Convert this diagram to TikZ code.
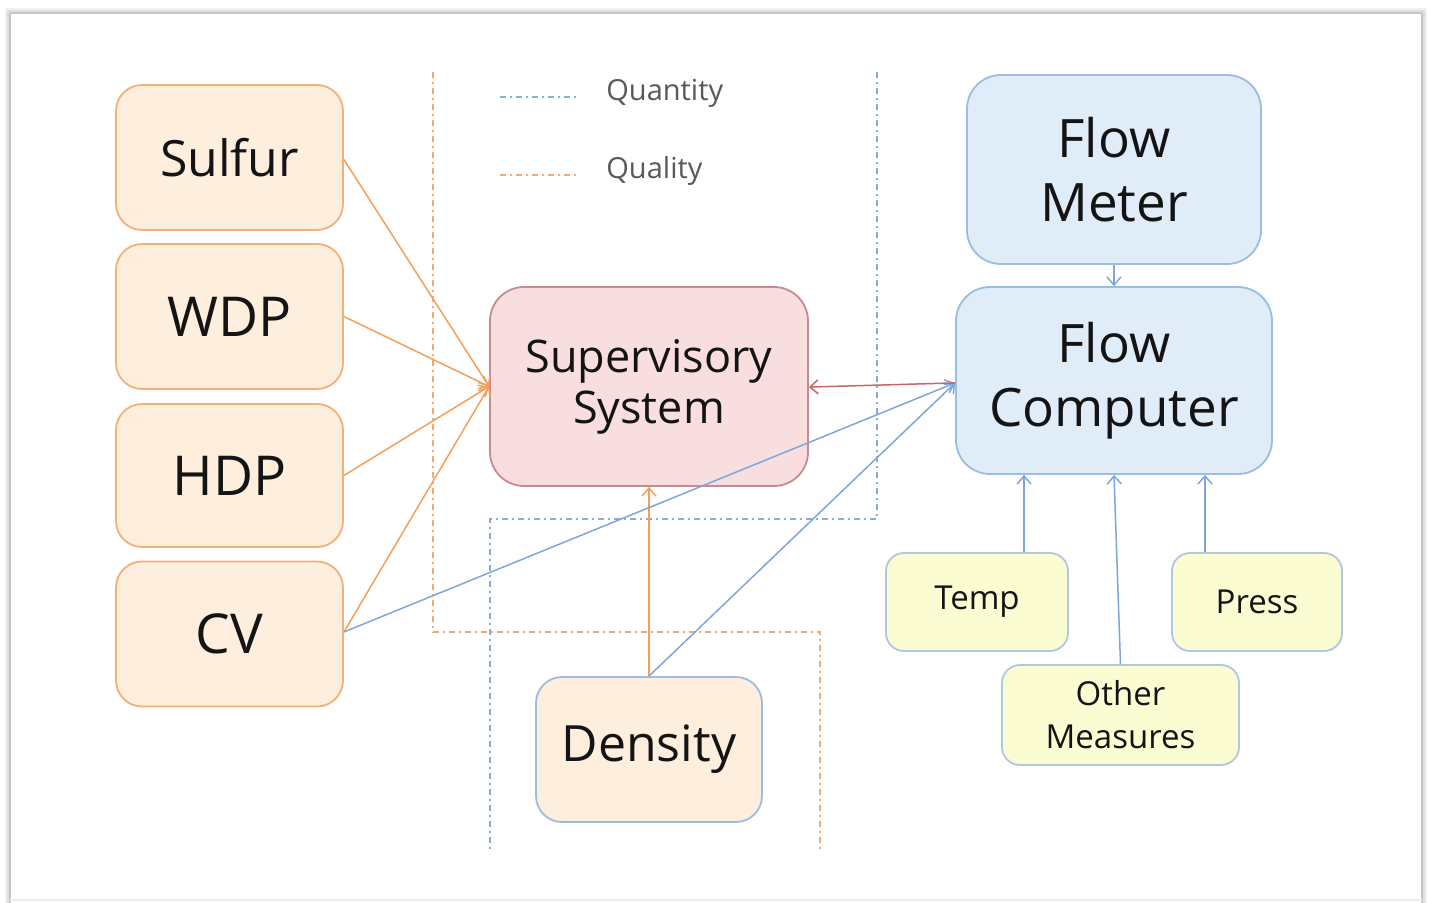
\documentclass[tikz,border=0pt]{standalone}
\usepackage{fontspec}
\setmainfont{Open Sans}
\usetikzlibrary{arrows.meta,calc}
\definecolor{ofill}{HTML}{FDEEDD}
\definecolor{odraw}{HTML}{F4B07A}
\definecolor{oline}{HTML}{F5A05A}
\definecolor{pfill}{HTML}{F9DEDF}
\definecolor{pdraw}{HTML}{C78A8E}
\definecolor{rline}{HTML}{C4676D}
\definecolor{bfill}{HTML}{E1ECF9}
\definecolor{bdraw}{HTML}{9BBCE3}
\definecolor{bline}{HTML}{7FA6DA}
\definecolor{yfill}{HTML}{FCFCD3}
\definecolor{ydraw}{HTML}{AFC8E2}
\definecolor{odash}{HTML}{F4A86A}
\definecolor{bdash}{HTML}{8AAAD8}
\definecolor{legtext}{HTML}{595959}
\definecolor{txt}{HTML}{141414}
\begin{document}
\begin{tikzpicture}[x=0.5pt,y=-0.5pt,
  boxbase/.style={rounded corners=13pt, line width=0.9pt, align=center, inner sep=0pt, text=txt},
  obox/.style={boxbase, fill=ofill, draw=odraw, minimum width=113.5pt, minimum height=72.5pt, font=\fontsize{25}{30}\selectfont},
  bigtext/.style={font=\fontsize{27.5}{32}\selectfont},
  sbox/.style={boxbase, rounded corners=17pt, fill=pfill, draw=pdraw, minimum width=159pt, minimum height=99.5pt, font=\fontsize{22.5}{25.5}\selectfont},
  fbox/.style={boxbase, rounded corners=17pt, fill=bfill, draw=bdraw, font=\fontsize{26.5}{32}\selectfont},
  ybox/.style={boxbase, rounded corners=9pt, fill=yfill, draw=ydraw, minimum height=49pt, font=\fontsize{16.5}{21.5}\selectfont},
  dbox/.style={boxbase, fill=ofill, draw=bdraw, minimum width=113pt, minimum height=72.5pt, font=\fontsize{25}{30}\selectfont},
  oarrow/.style={draw=oline, line width=0.75pt, -{Straight Barb[length=4pt,width=7pt]}},
  barrow/.style={draw=bline, line width=0.75pt, -{Straight Barb[length=4pt,width=7pt]}},
  rarrow/.style={draw=rline, line width=0.75pt, -{Straight Barb[length=4pt,width=7pt]}},
  odashed/.style={draw=odash, line width=0.75pt, dash pattern=on 3pt off 2pt on 1pt off 2pt},
  bdashed/.style={draw=bdash, line width=0.75pt, dash pattern=on 3pt off 2pt on 1pt off 2pt},
  legend/.style={anchor=base west, text=legtext, font=\fontsize{14.5}{17}\selectfont, inner sep=0pt}
]
\useasboundingbox (0,0) rectangle (1432,903);
\fill[white] (0,0) rectangle (1432,903);
% page frame with soft shadow
\draw[gray!12, line width=3pt] (8,911) -- (8,11) -- (1424,11) -- (1424,911);
\draw[gray!25, line width=1.6pt] (9,911) -- (9,12) -- (1423,12) -- (1423,911);
\draw[gray!45, line width=0.6pt] (10,905) -- (10,13) -- (1422,13) -- (1422,905);
\draw[gray!15, line width=0.8pt] (10,900) -- (1422,900);

% dash-dot regions
\draw[odashed] (433,72) -- (433,632) -- (820,632) -- (820,852);
\draw[bdashed] (877,72) -- (877,519) -- (490,519) -- (490,852);

% legend
\coordinate (lq1) at (500,97);
\coordinate (lq2) at (580,97);
\coordinate (ll1) at (500,175);
\coordinate (ll2) at (580,175);
\draw[bdashed] (lq1) -- (lq2);
\draw[odashed] (ll1) -- (ll2);
\node[legend] (quantity) at (606,101) {Quantity};
\node[legend] (quality) at (606,179) {Quality};

% nodes
\node[obox] (sulfur) at (229.5,157.5) {Sulfur};
\node[obox, bigtext] (wdp) at (229.5,316.5) {WDP};
\node[obox, bigtext, minimum height=71.5pt] (hdp) at (229.5,475.5) {HDP};
\node[obox, bigtext] (cv) at (229.5,634) {CV};
\node[sbox] (sup) at (649,386.5) {Supervisory\\System};
\node[fbox, minimum width=147pt, minimum height=94.5pt] (fm) at (1114,169.5) {Flow\\Meter};
\node[fbox, minimum width=158pt, minimum height=93.5pt] (fc) at (1114,380.5) {Flow\\Computer};
\node[ybox, minimum width=91pt] (temp) at (977,602) {Temp};
\node[ybox, minimum width=85pt] (press) at (1257,602) {Press};
\node[ybox, minimum width=118.5pt, minimum height=50pt] (other) at (1120.5,715) {Other\\Measures};
\node[dbox] (density) at (649,749.5) {Density};

% connectors
\draw[oarrow] ([yshift=-1pt]sulfur.east) -- (sup.west);
\draw[oarrow] (wdp.east) -- (sup.west);
\draw[oarrow] (hdp.east) -- (sup.west);
\draw[oarrow] ([yshift=1pt]cv.east) -- (sup.west);
\draw[oarrow] (density.north) -- (sup.south);
\draw[barrow] ([yshift=1pt]cv.east) -- ([yshift=-1.2pt]fc.west);
\draw[barrow] (density.north) -- ([yshift=-1.2pt]fc.west);
\draw[rarrow] ([yshift=-1.2pt]fc.west) -- ([yshift=-0.3pt]sup.east);
\draw[barrow] (fm.south) -- (fc.north);
\draw[barrow] ([xshift=23.5pt]temp.north) -- ([xshift=-45pt]fc.south);
\draw[barrow] (other.north) -- (fc.south);
\draw[barrow] ([xshift=-26pt]press.north) -- ([xshift=45.5pt]fc.south);
\end{tikzpicture}
\end{document}
